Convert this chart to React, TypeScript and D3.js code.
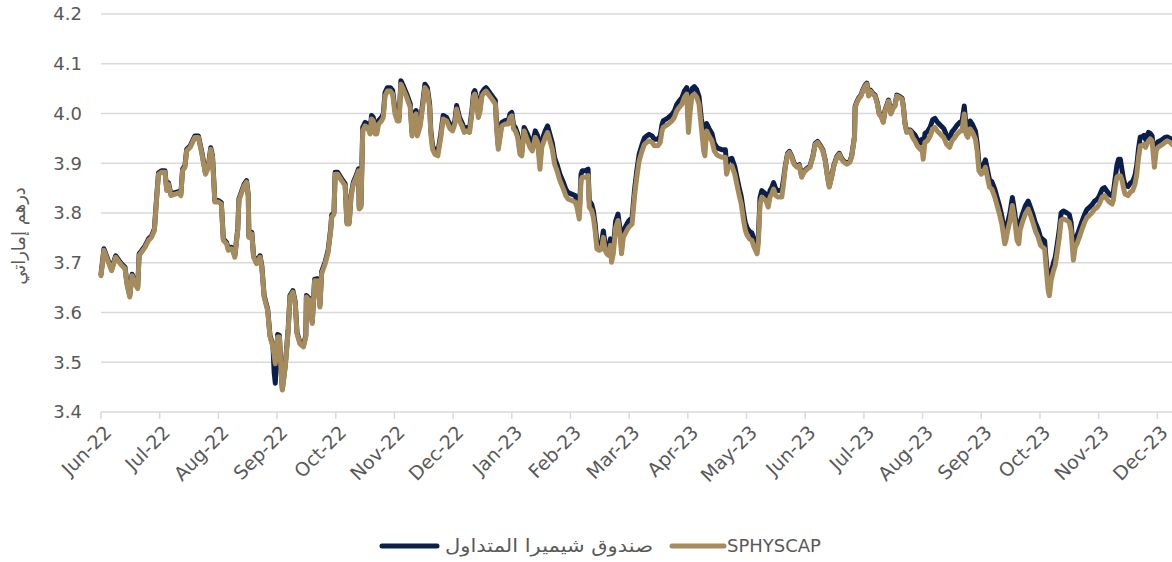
import React from "react";
import * as d3 from "d3";

// x positions are months since 1 Jun 2022 (Jun-22 = 0, Dec-23 = 18)
const monthLabels = ["Jun-22","Jul-22","Aug-22","Sep-22","Oct-22","Nov-22","Dec-22","Jan-23","Feb-23","Mar-23","Apr-23","May-23","Jun-23","Jul-23","Aug-23","Sep-23","Oct-23","Nov-23","Dec-23"];
const yTicks = [3.4, 3.5, 3.6, 3.7, 3.8, 3.9, 4.0, 4.1, 4.2];
const seriesNames = ["صندوق شيميرا المتداول", "SPHYSCAP"];
const yTitle = "درهم إماراتي";

const sphyscap: [number, number][] = [
[0,3.674],[0.05,3.725],[0.125,3.701],[0.18,3.684],[0.25,3.711],[0.31,3.701],[0.35,3.695],[0.41,3.688],[0.44,3.658],[0.49,3.631],[0.53,3.674],[0.58,3.658],[0.625,3.648],[0.65,3.715],[0.69,3.721],[0.75,3.731],[0.81,3.745],[0.86,3.751],[0.91,3.765],[0.95,3.832],[0.98,3.878],[1.03,3.882],[1.09,3.882],[1.12,3.845],[1.15,3.858],[1.19,3.835],[1.26,3.838],[1.32,3.84],[1.36,3.835],[1.39,3.885],[1.43,3.892],[1.46,3.925],[1.52,3.932],[1.56,3.942],[1.60,3.952],[1.66,3.952],[1.72,3.918],[1.78,3.878],[1.83,3.892],[1.87,3.928],[1.90,3.912],[1.94,3.822],[2.00,3.822],[2.05,3.818],[2.085,3.745],[2.14,3.738],[2.17,3.725],[2.22,3.728],[2.255,3.721],[2.28,3.711],[2.33,3.765],[2.35,3.825],[2.40,3.842],[2.44,3.855],[2.48,3.862],[2.51,3.832],[2.52,3.751],[2.57,3.758],[2.60,3.711],[2.65,3.698],[2.71,3.711],[2.74,3.691],[2.78,3.631],[2.84,3.604],[2.88,3.551],[2.93,3.531],[2.97,3.497],[3.01,3.551],[3.04,3.551],[3.07,3.477],[3.09,3.444],[3.14,3.491],[3.19,3.564],[3.22,3.631],[3.27,3.641],[3.31,3.618],[3.34,3.557],[3.39,3.537],[3.45,3.531],[3.49,3.551],[3.50,3.631],[3.56,3.624],[3.60,3.578],[3.64,3.664],
[3.69,3.664],[3.73,3.611],[3.76,3.678],[3.82,3.698],[3.87,3.721],[3.915,3.765],[3.93,3.791],[3.97,3.798],[3.99,3.878],[4.03,3.878],[4.10,3.865],[4.16,3.855],[4.19,3.778],[4.23,3.778],[4.26,3.832],[4.30,3.858],[4.35,3.872],[4.39,3.885],[4.40,3.808],[4.43,3.812],[4.46,3.965],[4.50,3.975],[4.54,3.972],[4.585,3.959],[4.61,3.989],[4.64,3.985],[4.67,3.959],[4.70,3.959],[4.73,3.979],[4.78,3.985],[4.81,3.992],[4.84,4.035],[4.88,4.045],[4.93,4.045],[4.97,4.039],[5.01,3.999],[5.05,3.985],[5.08,3.985],[5.11,4.059],[5.15,4.049],[5.21,4.032],[5.27,4.012],[5.30,3.955],[5.33,3.992],[5.37,3.999],[5.39,3.955],[5.44,3.975],[5.48,4.012],[5.52,4.052],[5.56,4.045],[5.60,4.012],[5.62,3.959],[5.65,3.928],[5.69,3.918],[5.74,3.915],[5.79,3.952],[5.83,3.989],[5.89,3.985],[5.95,3.969],[5.99,3.965],[6.03,3.979],[6.06,4.009],[6.11,3.985],[6.15,3.975],[6.19,3.962],[6.23,3.965],[6.28,3.962],[6.32,3.999],[6.35,4.035],[6.37,4.039],[6.40,4.025],[6.43,3.992],[6.46,4.005],[6.49,4.035],[6.53,4.042],[6.56,4.045],[6.60,4.039],[6.66,4.029],[6.72,4.019],[6.74,3.972],[6.77,3.928],[6.83,3.975],[6.89,3.979],[6.94,3.979],[6.97,3.992],[7.00,3.995],[7.03,3.969],[7.06,3.965],[7.10,3.952],[7.14,3.918],[7.17,3.915],[7.21,3.965],
[7.27,3.945],[7.31,3.932],[7.35,3.925],[7.40,3.952],[7.44,3.942],[7.48,3.888],[7.51,3.932],[7.57,3.952],[7.61,3.962],[7.65,3.945],[7.69,3.928],[7.73,3.898],[7.77,3.885],[7.82,3.865],[7.88,3.848],[7.92,3.835],[7.96,3.828],[8.02,3.825],[8.08,3.822],[8.11,3.812],[8.15,3.788],[8.18,3.865],[8.20,3.872],[8.25,3.872],[8.30,3.875],[8.32,3.812],[8.36,3.805],[8.39,3.791],[8.42,3.765],[8.45,3.728],[8.49,3.725],[8.53,3.728],[8.56,3.751],[8.59,3.725],[8.62,3.718],[8.65,3.715],[8.68,3.735],[8.70,3.701],[8.73,3.718],[8.77,3.771],[8.81,3.785],[8.85,3.748],[8.87,3.718],[8.90,3.751],[8.93,3.758],[8.99,3.771],[9.05,3.778],[9.09,3.832],[9.13,3.872],[9.17,3.905],[9.22,3.925],[9.26,3.938],[9.30,3.942],[9.34,3.945],[9.39,3.942],[9.43,3.935],[9.49,3.935],[9.53,3.942],[9.56,3.965],[9.58,3.972],[9.62,3.975],[9.67,3.979],[9.73,3.985],[9.77,3.992],[9.81,4.005],[9.85,4.012],[9.90,4.019],[9.94,4.032],[9.98,4.039],[10.01,3.962],[10.04,4.005],[10.07,4.035],[10.11,4.039],[10.15,4.033],[10.19,4.019],[10.23,3.972],[10.27,3.925],[10.29,3.915],[10.32,3.965],[10.36,3.955],[10.41,3.945],[10.45,3.925],[10.49,3.918],[10.52,3.915],[10.58,3.912],[10.64,3.912],[10.66,3.878],[10.69,3.892],[10.75,3.895],[10.80,3.878],[10.84,3.855],[10.87,3.838],[10.91,3.818],[10.95,3.785],[10.98,3.765],
[11.01,3.755],[11.05,3.748],[11.09,3.745],[11.13,3.731],[11.18,3.718],[11.20,3.738],[11.23,3.818],[11.26,3.832],[11.30,3.828],[11.33,3.825],[11.37,3.812],[11.40,3.832],[11.43,3.838],[11.46,3.848],[11.50,3.835],[11.54,3.832],[11.60,3.832],[11.63,3.858],[11.66,3.892],[11.70,3.918],[11.73,3.922],[11.77,3.912],[11.81,3.898],[11.86,3.892],[11.90,3.895],[11.94,3.872],[11.98,3.882],[12.03,3.888],[12.08,3.892],[12.13,3.912],[12.17,3.938],[12.21,3.942],[12.25,3.935],[12.30,3.925],[12.34,3.905],[12.38,3.872],[12.41,3.852],[12.45,3.872],[12.49,3.895],[12.54,3.912],[12.58,3.918],[12.62,3.908],[12.66,3.902],[12.71,3.898],[12.76,3.902],[12.79,3.912],[12.84,3.952],[12.85,4.012],[12.88,4.022],[12.91,4.029],[12.95,4.035],[12.98,4.045],[13.02,4.055],[13.05,4.059],[13.08,4.035],[13.11,4.045],[13.15,4.039],[13.19,4.035],[13.23,4.019],[13.26,3.999],[13.30,3.992],[13.33,3.982],[13.36,4.005],[13.39,4.015],[13.42,4.025],[13.46,3.999],[13.49,4.009],[13.53,4.015],[13.56,4.035],[13.61,4.032],[13.65,4.029],[13.67,4.015],[13.70,3.979],[13.73,3.962],[13.79,3.965],[13.83,3.952],[13.87,3.945],[13.91,3.935],[13.96,3.928],[13.99,3.932],[14.01,3.908],[14.04,3.942],[14.08,3.945],[14.13,3.955],[14.17,3.969],[14.21,3.972],[14.25,3.965],[14.30,3.959],[14.36,3.952],[14.41,3.938],[14.46,3.932],[14.50,3.945],[14.55,3.952],[14.59,3.959],[14.64,3.965],
[14.67,3.965],[14.71,3.999],[14.74,3.959],[14.77,3.952],[14.81,3.969],[14.85,3.962],[14.90,3.949],[14.93,3.925],[14.96,3.885],[15.00,3.878],[15.04,3.882],[15.07,3.892],[15.10,3.875],[15.14,3.852],[15.18,3.848],[15.23,3.832],[15.27,3.815],[15.31,3.798],[15.35,3.778],[15.40,3.738],[15.42,3.745],[15.45,3.765],[15.49,3.785],[15.53,3.815],[15.57,3.785],[15.61,3.745],[15.64,3.738],[15.66,3.765],[15.70,3.781],[15.75,3.798],[15.80,3.808],[15.84,3.795],[15.88,3.781],[15.92,3.765],[15.97,3.751],[16.01,3.735],[16.05,3.731],[16.08,3.728],[16.10,3.698],[16.14,3.644],[16.16,3.634],[16.19,3.664],[16.23,3.684],[16.26,3.695],[16.29,3.718],[16.33,3.751],[16.36,3.785],[16.40,3.788],[16.46,3.785],[16.50,3.781],[16.53,3.765],[16.57,3.705],[16.60,3.731],[16.63,3.738],[16.67,3.751],[16.71,3.765],[16.76,3.781],[16.80,3.791],[16.84,3.795],[16.89,3.801],[16.93,3.808],[16.97,3.811],[17.01,3.818],[17.06,3.832],[17.10,3.835],[17.14,3.828],[17.18,3.822],[17.23,3.818],[17.25,3.825],[17.28,3.852],[17.31,3.872],[17.34,3.875],[17.37,3.875],[17.40,3.865],[17.42,3.852],[17.45,3.838],[17.50,3.835],[17.54,3.842],[17.58,3.845],[17.62,3.858],[17.65,3.878],[17.68,3.912],[17.71,3.935],[17.74,3.935],[17.77,3.938],[17.80,3.932],[17.82,3.938],[17.85,3.945],[17.88,3.949],[17.91,3.945],[17.95,3.892],[17.98,3.925],[18.01,3.932],[18.05,3.935],[18.09,3.938],[18.13,3.942],[18.17,3.945],[18.22,3.942],[18.25,3.938]
];

const chimeraFund: [number, number][] = [
[0,3.677],[0.05,3.728],[0.125,3.704],[0.18,3.687],[0.25,3.714],[0.31,3.704],[0.35,3.698],[0.41,3.691],[0.44,3.661],[0.49,3.634],[0.53,3.677],[0.58,3.661],[0.625,3.651],[0.65,3.718],[0.69,3.724],[0.75,3.734],[0.81,3.748],[0.86,3.754],[0.91,3.768],[0.95,3.835],[0.98,3.881],[1.03,3.885],[1.09,3.885],[1.12,3.848],[1.15,3.861],[1.19,3.838],[1.26,3.841],[1.32,3.843],[1.36,3.838],[1.39,3.888],[1.43,3.895],[1.46,3.928],[1.52,3.935],[1.56,3.945],[1.60,3.955],[1.66,3.955],[1.72,3.921],[1.78,3.881],[1.83,3.895],[1.87,3.931],[1.90,3.915],[1.94,3.825],[2.00,3.825],[2.05,3.821],[2.085,3.748],[2.14,3.741],[2.17,3.728],[2.22,3.731],[2.255,3.724],[2.28,3.714],[2.33,3.768],[2.35,3.828],[2.40,3.845],[2.44,3.858],[2.48,3.865],[2.51,3.835],[2.52,3.754],[2.57,3.761],[2.60,3.714],[2.65,3.701],[2.71,3.714],[2.74,3.694],[2.78,3.634],[2.84,3.607],[2.88,3.554],[2.93,3.534],
[2.95,3.48],[2.97,3.458],[3.01,3.556],[3.04,3.554],[3.07,3.48],[3.09,3.447],[3.14,3.494],[3.19,3.567],[3.22,3.634],[3.27,3.644],[3.31,3.621],[3.34,3.56],[3.39,3.54],[3.45,3.534],[3.49,3.554],[3.50,3.634],[3.56,3.627],[3.60,3.581],[3.64,3.667],
[3.69,3.668],[3.73,3.615],[3.76,3.682],[3.82,3.702],[3.87,3.725],[3.915,3.769],[3.93,3.795],[3.97,3.802],[3.99,3.882],[4.03,3.882],[4.10,3.869],[4.16,3.859],[4.19,3.782],[4.23,3.782],[4.26,3.836],[4.30,3.862],[4.35,3.876],[4.39,3.889],[4.40,3.812],[4.43,3.816],
[4.46,3.972],[4.50,3.982],[4.54,3.979],[4.585,3.966],[4.61,3.996],[4.64,3.992],[4.67,3.966],[4.70,3.966],[4.73,3.986],[4.78,3.992],[4.81,3.999],[4.84,4.042],[4.88,4.052],[4.93,4.052],[4.97,4.046],[5.01,4.006],[5.05,3.992],[5.08,3.992],[5.11,4.066],[5.15,4.056],[5.21,4.039],[5.27,4.019],[5.30,3.962],[5.33,3.999],[5.37,4.006],[5.39,3.962],[5.44,3.982],[5.48,4.019],[5.52,4.059],[5.56,4.052],[5.60,4.019],[5.62,3.966],[5.65,3.935],[5.69,3.925],[5.74,3.922],[5.79,3.959],[5.83,3.996],[5.89,3.992],[5.95,3.976],[5.99,3.972],[6.03,3.986],[6.06,4.016],[6.11,3.992],[6.15,3.982],[6.19,3.969],[6.23,3.972],[6.28,3.969],[6.32,4.006],[6.35,4.042],[6.37,4.046],[6.40,4.032],[6.43,3.999],[6.46,4.012],[6.49,4.042],[6.53,4.049],[6.56,4.052],[6.60,4.046],[6.66,4.036],[6.72,4.026],[6.74,3.979],[6.77,3.935],[6.83,3.982],[6.89,3.986],[6.94,3.986],[6.97,3.999],[7.00,4.002],[7.03,3.976],[7.06,3.972],[7.10,3.959],[7.14,3.925],[7.17,3.922],[7.21,3.972],
[7.27,3.958],[7.31,3.945],[7.35,3.938],[7.40,3.965],[7.44,3.955],[7.48,3.901],[7.51,3.945],[7.57,3.965],[7.61,3.975],[7.65,3.958],[7.69,3.941],[7.73,3.911],[7.77,3.898],[7.82,3.878],[7.88,3.861],[7.92,3.848],[7.96,3.841],[8.02,3.838],[8.08,3.835],[8.11,3.825],[8.15,3.801],[8.18,3.878],[8.20,3.885],[8.25,3.885],[8.30,3.888],[8.32,3.825],[8.36,3.818],[8.39,3.804],[8.42,3.778],[8.45,3.741],[8.49,3.738],[8.53,3.741],[8.56,3.764],[8.59,3.738],[8.62,3.731],[8.65,3.728],[8.68,3.748],[8.70,3.714],[8.73,3.731],[8.77,3.784],[8.81,3.798],[8.85,3.761],[8.87,3.731],[8.90,3.764],[8.93,3.771],[8.99,3.784],[9.05,3.791],[9.09,3.845],[9.13,3.885],[9.17,3.918],[9.22,3.938],[9.26,3.951],[9.30,3.955],[9.34,3.958],[9.39,3.955],[9.43,3.948],[9.49,3.948],[9.53,3.955],[9.56,3.978],[9.58,3.985],[9.62,3.988],[9.67,3.992],[9.73,3.998],[9.77,4.005],[9.81,4.018],[9.85,4.025],[9.90,4.032],[9.94,4.045],[9.98,4.052],
[10.01,3.985],[10.04,4.02],[10.07,4.05],[10.11,4.054],[10.15,4.048],[10.19,4.034],[10.23,3.99],[10.27,3.955],[10.29,3.948],[10.32,3.98],[10.36,3.97],[10.41,3.96],[10.45,3.94],[10.49,3.933],[10.52,3.93],[10.58,3.927],[10.64,3.927],[10.66,3.895],[10.69,3.907],[10.75,3.91],[10.80,3.893],[10.84,3.87],[10.87,3.853],[10.91,3.833],[10.95,3.80],[10.98,3.78],[11.01,3.77],[11.05,3.763],[11.09,3.76],[11.13,3.746],[11.18,3.728],[11.20,3.75],
[11.23,3.831],[11.26,3.845],[11.30,3.841],[11.33,3.838],[11.37,3.825],[11.40,3.845],[11.43,3.851],[11.46,3.861],[11.50,3.848],[11.54,3.845],[11.60,3.845],[11.63,3.868],
[11.66,3.894],[11.70,3.92],[11.73,3.924],[11.77,3.914],[11.81,3.90],[11.86,3.894],[11.90,3.897],[11.94,3.874],[11.98,3.884],[12.03,3.89],[12.08,3.894],[12.13,3.914],[12.17,3.94],[12.21,3.944],[12.25,3.937],[12.30,3.927],[12.34,3.907],[12.38,3.874],[12.41,3.854],[12.45,3.874],[12.49,3.897],[12.54,3.914],[12.58,3.92],[12.62,3.91],[12.66,3.904],[12.71,3.90],[12.76,3.904],[12.79,3.914],[12.84,3.954],[12.85,4.014],[12.88,4.024],[12.91,4.031],[12.95,4.037],[12.98,4.047],[13.02,4.057],[13.05,4.061],[13.08,4.037],[13.11,4.047],[13.15,4.041],[13.19,4.037],[13.23,4.021],[13.26,4.001],[13.30,3.994],[13.33,3.984],[13.36,4.007],[13.39,4.017],[13.42,4.027],[13.46,4.001],[13.49,4.011],[13.53,4.017],[13.56,4.037],[13.61,4.034],[13.65,4.031],[13.67,4.017],[13.70,3.981],[13.73,3.964],[13.79,3.967],
[13.83,3.962],[13.87,3.957],[13.91,3.948],[13.96,3.942],[13.99,3.948],[14.01,3.928],[14.04,3.96],[14.08,3.963],[14.13,3.973],[14.17,3.987],[14.21,3.99],[14.25,3.983],[14.30,3.977],[14.36,3.97],[14.41,3.956],[14.46,3.95],[14.50,3.963],[14.55,3.97],[14.59,3.977],[14.64,3.983],
[14.67,3.982],[14.71,4.015],[14.74,3.975],[14.77,3.968],[14.81,3.985],[14.85,3.978],[14.90,3.965],[14.93,3.94],[14.96,3.90],[15.00,3.893],[15.04,3.897],[15.07,3.907],[15.10,3.89],[15.14,3.867],[15.18,3.863],[15.23,3.848],[15.27,3.831],[15.31,3.814],[15.35,3.794],[15.40,3.755],[15.42,3.762],[15.45,3.781],[15.49,3.801],[15.53,3.831],[15.57,3.801],[15.61,3.762],[15.64,3.755],[15.66,3.781],[15.70,3.797],[15.75,3.814],[15.80,3.824],[15.84,3.811],[15.88,3.797],[15.92,3.781],[15.97,3.767],[16.01,3.751],[16.05,3.747],[16.08,3.744],[16.10,3.714],[16.14,3.66],[16.16,3.648],[16.19,3.68],[16.23,3.70],[16.26,3.711],[16.29,3.734],[16.33,3.767],[16.36,3.80],[16.40,3.804],[16.46,3.80],[16.50,3.797],[16.53,3.781],[16.57,3.722],[16.60,3.747],[16.63,3.754],[16.67,3.767],[16.71,3.781],[16.76,3.797],[16.80,3.807],[16.84,3.811],[16.89,3.817],[16.93,3.824],[16.97,3.827],[17.01,3.834],[17.06,3.848],[17.10,3.851],[17.14,3.844],[17.18,3.838],[17.23,3.834],[17.25,3.841],[17.28,3.868],[17.31,3.895],[17.34,3.908],[17.37,3.908],[17.40,3.885],[17.42,3.87],[17.45,3.856],[17.50,3.853],[17.54,3.86],[17.58,3.863],[17.62,3.876],[17.65,3.896],[17.68,3.93],[17.71,3.953],[17.74,3.953],[17.77,3.956],[17.80,3.948],[17.82,3.955],[17.85,3.962],[17.88,3.96],[17.91,3.955],[17.95,3.915],[17.98,3.938],[18.01,3.943],[18.05,3.945],[18.09,3.948],[18.13,3.952],[18.17,3.953],[18.22,3.95],[18.25,3.947]
];

const W = 1172;
const H = 562;
const NAVY = "#0B1F4D";
const GOLD = "#A68B5C";
const GRID = "#D9D9D9";
const TEXT = "#595959";
const FONT = "'DejaVu Sans', Verdana, sans-serif";

export default function App() {
  const x = d3.scaleLinear().domain([0, 18.25]).range([101, 1172]);
  const y = d3.scaleLinear().domain([3.4, 4.2]).range([412, 14]);
  const line = d3
    .line<[number, number]>()
    .x((d) => x(d[0]))
    .y((d) => y(d[1]));

  return (
    <div style={{ position: "absolute", left: 0, top: 0 }}>
      <svg width={W} height={H} style={{ display: "block", background: "#fff" }} fontFamily={FONT}>
        {yTicks.map((t) => (
          <g key={t}>
            {t > 3.4 && (
              <line x1={x(0)} x2={W} y1={y(t)} y2={y(t)} stroke={GRID} strokeWidth={1.5} />
            )}
            <text x={82} y={y(t)} dy="0.36em" textAnchor="end" fontSize={18} fill={TEXT}>
              {t.toFixed(1)}
            </text>
          </g>
        ))}
        <line x1={x(0)} x2={W} y1={y(3.4)} y2={y(3.4)} stroke={GRID} strokeWidth={1.5} />
        {monthLabels.map((m, i) => (
          <g key={m}>
            <line x1={x(i)} x2={x(i)} y1={y(3.4)} y2={y(3.4) + 7} stroke={GRID} strokeWidth={1.5} />
            <text
              transform={`translate(${x(i) + 7},${y(3.4) + 17}) rotate(-45)`}
              textAnchor="end"
              dy="0.35em"
              fontSize={19}
              fill={TEXT}
            >
              {m}
            </text>
          </g>
        ))}
        <text
          transform={`translate(19,236) rotate(-90)`}
          textAnchor="middle"
          dy="0.35em"
          fontSize={18}
          fill={TEXT}
        >
          {yTitle}
        </text>
        <path d={line(chimeraFund) || ""} fill="none" stroke={NAVY} strokeWidth={5} strokeLinejoin="round" strokeLinecap="round" />
        <path d={line(sphyscap) || ""} fill="none" stroke={GOLD} strokeWidth={5} strokeLinejoin="round" strokeLinecap="round" />
        <g>
          <line x1={382} x2={437} y1={546} y2={546} stroke={NAVY} strokeWidth={5} strokeLinecap="round" />
          <text x={445} y={546} dy="0.35em" fontSize={18} fill={TEXT} textLength={208} lengthAdjust="spacingAndGlyphs">{seriesNames[0]}</text>
          <line x1={672} x2={724} y1={546} y2={546} stroke={GOLD} strokeWidth={5} strokeLinecap="round" />
          <text x={727} y={546} dy="0.35em" fontSize={18} fill={TEXT}>{seriesNames[1]}</text>
        </g>
      </svg>
    </div>
  );
}
